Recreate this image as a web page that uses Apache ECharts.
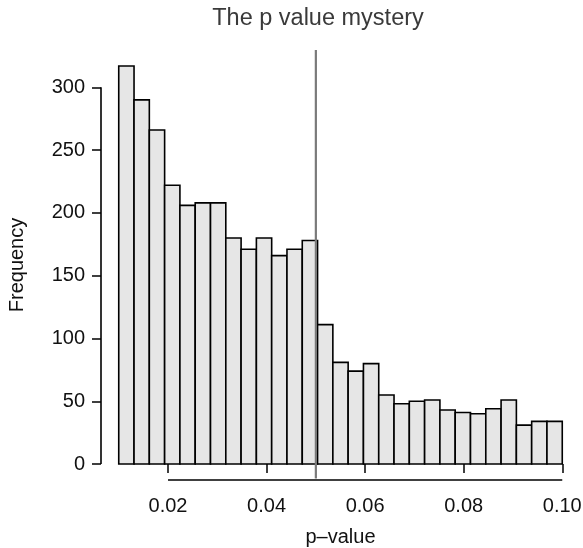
<!DOCTYPE html>
<html>
<head>
<meta charset="utf-8">
<script src="https://cdn.jsdelivr.net/npm/echarts@6/dist/echarts.min.js"></script>
<style>html,body{margin:0;padding:0;background:#fff}#c{width:583px;height:548px}</style>
</head>
<body>
<div id="c"></div>
<script>
// ---- data ----
const binStart = 0.01;
const binEnd = 0.10;
const counts = [317, 290, 266, 222, 206, 208, 208, 180, 171, 180, 166, 171, 178,
                111, 81, 74, 80, 55, 48, 50, 51, 43, 41, 40, 44, 51, 31, 34, 34];
const xTicks = [0.02, 0.04, 0.06, 0.08, 0.10];
const xTickLabels = ['0.02', '0.04', '0.06', '0.08', '0.10'];
const yTicks = [0, 50, 100, 150, 200, 250, 300];
const yTickLabels = ['0', '50', '100', '150', '200', '250', '300'];
const cutoff = 0.05;
const titleText = 'The p value mystery';
const xName = 'p\u2013value';
const yName = 'Frequency';

// plot region like R (4% extension)
const xMin = 0.0064, xMax = 0.1036;
const yMin = -12.7, yMax = 329.7;

const nb = counts.length;
const bw = (binEnd - binStart) / nb;
const bins = counts.map((c, i) => [binStart + i * bw, binStart + (i + 1) * bw, c]);

const FONT = '"Liberation Sans", Arial, sans-serif';
const chart = echarts.init(document.getElementById('c'), null, {renderer: 'canvas'});
chart.setOption({
  animation: false,
  backgroundColor: '#fff',
  graphic: [{
    type: 'text', x: 318, y: 7,
    style: {text: titleText, font: '23.5px ' + FONT, fill: '#3a3a3a', align: 'center', textAlign: 'center', verticalAlign: 'top'}
  }],
  grid: {left: 101, right: 3, top: 50, bottom: 68, containLabel: false, outerBoundsMode: 'none'},
  xAxis: {
    type: 'value', min: xMin, max: xMax,
    axisLine: {show: false},
    splitLine: {show: false},
    axisTick: {show: true, customValues: xTicks, length: 9, lineStyle: {color: '#000', width: 1.5}},
    axisLabel: {show: true, customValues: xTicks, margin: 16, fontSize: 20, fontFamily: FONT, color: '#111',
      formatter: v => { const i = xTicks.findIndex(t => Math.abs(t - v) < 1e-9); return i >= 0 ? xTickLabels[i] : ''; }},
    name: xName, nameLocation: 'middle', nameGap: 47, nameMoveOverlap: false,
    nameTextStyle: {fontSize: 20, fontFamily: FONT, color: '#111'}
  },
  yAxis: {
    type: 'value', min: yMin, max: yMax,
    axisLine: {show: false},
    splitLine: {show: false},
    axisTick: {show: true, customValues: yTicks, length: 9, lineStyle: {color: '#000', width: 1.5}},
    axisLabel: {show: true, customValues: yTicks, margin: 16, fontSize: 20, fontFamily: FONT, color: '#111',
      formatter: v => { const i = yTicks.findIndex(t => Math.abs(t - v) < 1e-9); return i >= 0 ? yTickLabels[i] : ''; }},
    name: yName, nameLocation: 'middle', nameGap: 74, nameRotate: 90, nameMoveOverlap: false,
    nameTextStyle: {fontSize: 20, fontFamily: FONT, color: '#111'}
  },
  series: [
    {
      type: 'custom', data: bins, clip: false,
      renderItem: function (params, api) {
        const p0 = api.coord([api.value(0), 0]);
        const p1 = api.coord([api.value(1), api.value(2)]);
        return {
          type: 'rect',
          shape: {x: p0[0], y: p1[1], width: p1[0] - p0[0], height: p0[1] - p1[1]},
          style: {fill: '#e6e6e6', stroke: '#000', lineWidth: 1.6}
        };
      },
      encode: {x: [0, 1], y: 2}
    },
    {
      type: 'line', data: [[cutoff, yMin + 1.2], [cutoff, yMax]], symbol: 'none', clip: false, z: 5,
      lineStyle: {color: '#7a7a7a', width: 2.2}, silent: true
    },
    {
      type: 'line', data: [[xTicks[0], yMin], [xTicks[xTicks.length - 1], yMin]], symbol: 'none', clip: false,
      lineStyle: {color: '#000', width: 1.6}, silent: true
    },
    {
      type: 'line', data: [[xMin, yTicks[0]], [xMin, yTicks[yTicks.length - 1]]], symbol: 'none', clip: false,
      lineStyle: {color: '#000', width: 1.6}, silent: true
    }
  ]
});
</script>
</body>
</html>
